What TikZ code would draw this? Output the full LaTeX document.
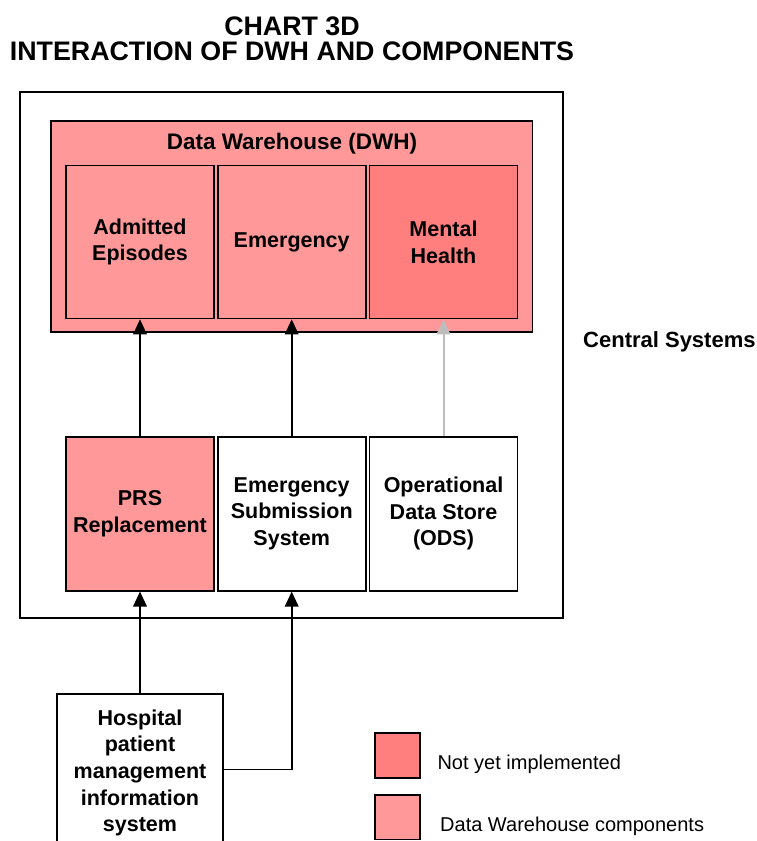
\documentclass[tikz,border=0pt]{standalone}
\usepackage{fontspec}
\setmainfont{Liberation Sans}
\usetikzlibrary{arrows.meta}

\definecolor{dwhpink}{HTML}{FF9999}
\definecolor{todored}{HTML}{FF7F7F}
\definecolor{feedgray}{HTML}{BDBDBD}

\tikzset{
  boxtext/.style={font=\bfseries\fontsize{21.5}{26.7}\selectfont, align=center},
  sysbox/.style={boxtext, draw=black, line width=1.6pt, inner sep=0pt,
    minimum width=148pt, minimum height=153pt},
  legendbox/.style={draw=black, line width=1.6pt, inner sep=0pt,
    minimum width=45pt, minimum height=44.5pt},
  legendtext/.style={font=\fontsize{20}{24}\selectfont, anchor=base west, inner sep=0pt},
  flow/.style={line width=1.8pt, -{Triangle[width=13.5pt,length=15pt]}},
  feed/.style={flow, draw=feedgray, color=feedgray, line width=2pt},
}

\begin{document}
\begin{tikzpicture}[x=1pt, y=-1pt]
  % page frame; everything beyond it is cut away
  \path[clip] (0,0) rectangle (757,841);

  % heading
  \node[anchor=base, inner sep=0pt, font=\bfseries\fontsize{26.8}{30}\selectfont]
    (title1) at (292,35) {CHART 3D};
  \node[anchor=base, inner sep=0pt, font=\bfseries\fontsize{26.8}{30}\selectfont]
    (title2) at (292,60) {INTERACTION OF DWH AND COMPONENTS};

  % central systems frame and data warehouse
  \node[draw=black, line width=1.6pt, minimum width=543pt, minimum height=526pt,
        inner sep=0pt] (central) at (291.5,355) {};
  \node[draw=black, line width=1.6pt, fill=dwhpink, minimum width=481.5pt,
        minimum height=211pt, inner sep=0pt] (dwh) at (291.75,226.5) {};
  \node[anchor=base, inner sep=0pt, font=\bfseries\fontsize{22.5}{27}\selectfont]
    (dwhlabel) at (292,149.3) {Data Warehouse (DWH)};

  % data warehouse components
  \node[sysbox, fill=dwhpink] (adm) at (140,242) {Admitted\\Episodes};
  \node[sysbox, fill=dwhpink] (emg) at (291.7,242) {Emergency};
  \node[sysbox, fill=todored] (mh)  at (443.5,242) {Mental\\Health};

  % feeding systems
  \node[sysbox, fill=dwhpink, minimum height=154pt] (prs) at (140,513.7) {PRS\\Replacement};
  \node[sysbox, fill=white, minimum height=154pt] (ess) at (291.7,513.7) {Emergency\\Submission\\System};
  \node[sysbox, fill=white, minimum height=154pt] (ods) at (443.5,513.7) {Operational\\Data Store\\(ODS)};

  \node[anchor=base west, inner sep=0pt, font=\bfseries\fontsize{22}{26}\selectfont]
    (centrallabel) at (583,347) {Central Systems};

  % hospital system, running off the foot of the page
  \node[sysbox, fill=white, minimum width=166pt, minimum height=158pt] (hosp) at (140,773)
    {Hospital\\patient\\management\\information\\system};

  % data flows
  \draw[flow] (prs.north) -- (adm.south);
  \draw[flow] (ess.north) -- (emg.south);
  \draw[feed] (ods.north) -- (mh.south);
  \draw[flow] (hosp.north) -- (prs.south);
  \draw[flow] ([yshift=3.5pt]hosp.east) -| (ess.south);

  % legend
  \node[legendbox, fill=todored] (keytodo) at (397.5,755.5) {};
  \node[legendbox, fill=dwhpink] (keydwh) at (397.5,817.2) {};
  \node[legendtext] (keytodotext) at (437.3,769.3) {Not yet implemented};
  \node[legendtext] (keydwhtext) at (440,831.7) {Data Warehouse components};
\end{tikzpicture}
\end{document}
